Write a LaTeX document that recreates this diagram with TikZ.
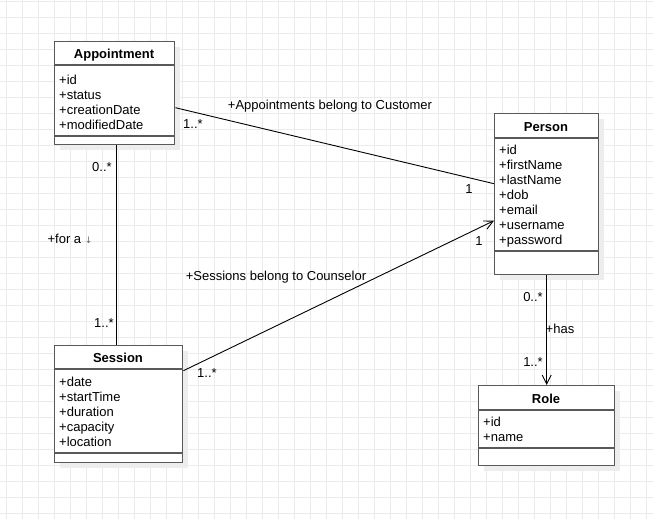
\documentclass[tikz,border=0pt]{standalone}
\usepackage{fontspec}
\setmainfont{Liberation Sans}
\usetikzlibrary{arrows.meta}
\definecolor{gridc}{HTML}{EBEBEB}
\definecolor{boxc}{HTML}{595959}
\definecolor{shadowc}{HTML}{EDEDED}
\tikzset{
  cls/.style={draw=boxc, line width=1.4pt, fill=white, inner sep=0pt, anchor=north west},
  sepline/.style={draw=boxc, line width=1.4pt},
  title/.style={font=\fontsize{13}{15}\selectfont\bfseries, inner sep=0pt, text height=9.5pt, text depth=0pt, yshift=-0.8pt},
  attr/.style={font=\fontsize{13}{15}\selectfont, inner sep=0pt, anchor=west, text height=9.5pt, text depth=0pt, yshift=-0.8pt},
  lbl/.style={font=\fontsize{13}{15}\selectfont, inner sep=0pt, text height=9.5pt, text depth=0pt, yshift=-0.8pt},
  assoc/.style={draw=black, line width=0.9pt},
  openarrow/.style={-{Straight Barb[length=9pt,width=9pt,line width=0.9pt]}}
}
\begin{document}
\begin{tikzpicture}[x=1pt,y=-1pt]
\useasboundingbox (0,0) rectangle (653,519);
\fill[white] (0,0) rectangle (653,519);
% grid
\foreach \i in {0,...,40} {\draw[gridc, line width=0.9pt] (6.7+16*\i,0) -- (6.7+16*\i,519);}
\foreach \j in {0,...,32} {\draw[gridc, line width=0.9pt] (0,1.3+16*\j) -- (653,1.3+16*\j);}

% shadows
\fill[shadowc] (60,47) rectangle (180,150);
\fill[shadowc] (500,119) rectangle (604,280);
\fill[shadowc] (60,351) rectangle (188,468);
\fill[shadowc] (484,391) rectangle (620,471);

% Appointment
\node[cls, minimum width=120pt, minimum height=103pt] (app) at (54,41) {};
\draw[sepline] (54,65) -- (174,65);
\draw[sepline] (54,136) -- (174,136);
\node[title] (appt) at (114,53) {Appointment};
\node[attr] (a1) at (59,79) {+id};
\node[attr] (a2) at (59,94) {+status};
\node[attr] (a3) at (59,109) {+creationDate};
\node[attr] (a4) at (59,124) {+modifiedDate};

% Person
\node[cls, minimum width=104pt, minimum height=161pt] (per) at (494,113) {};
\draw[sepline] (494,138) -- (598,138);
\draw[sepline] (494,251) -- (598,251);
\node[title] (pert) at (546,125.5) {Person};
\node[attr] (p1) at (499,149) {+id};
\node[attr] (p2) at (499,164) {+firstName};
\node[attr] (p3) at (499,179) {+lastName};
\node[attr] (p4) at (499,194) {+dob};
\node[attr] (p5) at (499,209) {+email};
\node[attr] (p6) at (499,224) {+username};
\node[attr] (p7) at (499,239) {+password};

% Session
\node[cls, minimum width=128pt, minimum height=117pt] (ses) at (54,345) {};
\draw[sepline] (54,369) -- (182,369);
\draw[sepline] (54,453) -- (182,453);
\node[title] (sest) at (118,357) {Session};
\node[attr] (s1) at (59,381) {+date};
\node[attr] (s2) at (59,396) {+startTime};
\node[attr] (s3) at (59,411) {+duration};
\node[attr] (s4) at (59,426) {+capacity};
\node[attr] (s5) at (59,441) {+location};

% Role
\node[cls, minimum width=136pt, minimum height=80pt] (role) at (478,385) {};
\draw[sepline] (478,410) -- (614,410);
\draw[sepline] (478,448) -- (614,448);
\node[title] (rolet) at (546,397.5) {Role};
\node[attr] (r1) at (483,421) {+id};
\node[attr] (r2) at (483,436) {+name};

% Associations
\draw[assoc] ([yshift=-14.5pt]app.east) -- ([yshift=10.5pt]per.west);
\node[lbl] (l1) at (330,104) {+Appointments belong to Customer};
\node[lbl] (l1a) at (193,123) {1..*};
\node[lbl] (l1b) at (469,188) {1};

\draw[assoc] ([xshift=2pt]app.south) -- ([xshift=-2pt]ses.north);
\node[lbl] (l2a) at (102,166) {0..*};
\node[lbl] (l2) at (70,238) {+for a \textcolor{black!60}{\fontspec{DejaVu Sans}\fontsize{9}{11}\selectfont ↓}};
\node[lbl] (l2b) at (104,322) {1..*};

\draw[assoc, openarrow] ([yshift=33.5pt]ses.east) -- ([yshift=-26.5pt]per.west);
\node[lbl] (l3) at (276,275) {+Sessions belong to Counselor};
\node[lbl] (l3a) at (207,372) {1..*};
\node[lbl] (l3b) at (479,240) {1};

\draw[assoc, openarrow] (per.south) -- (role.north);
\node[lbl] (l4a) at (533,296) {0..*};
\node[lbl] (l4) at (560,328) {+has};
\node[lbl] (l4b) at (533,361) {1..*};
\end{tikzpicture}
\end{document}
